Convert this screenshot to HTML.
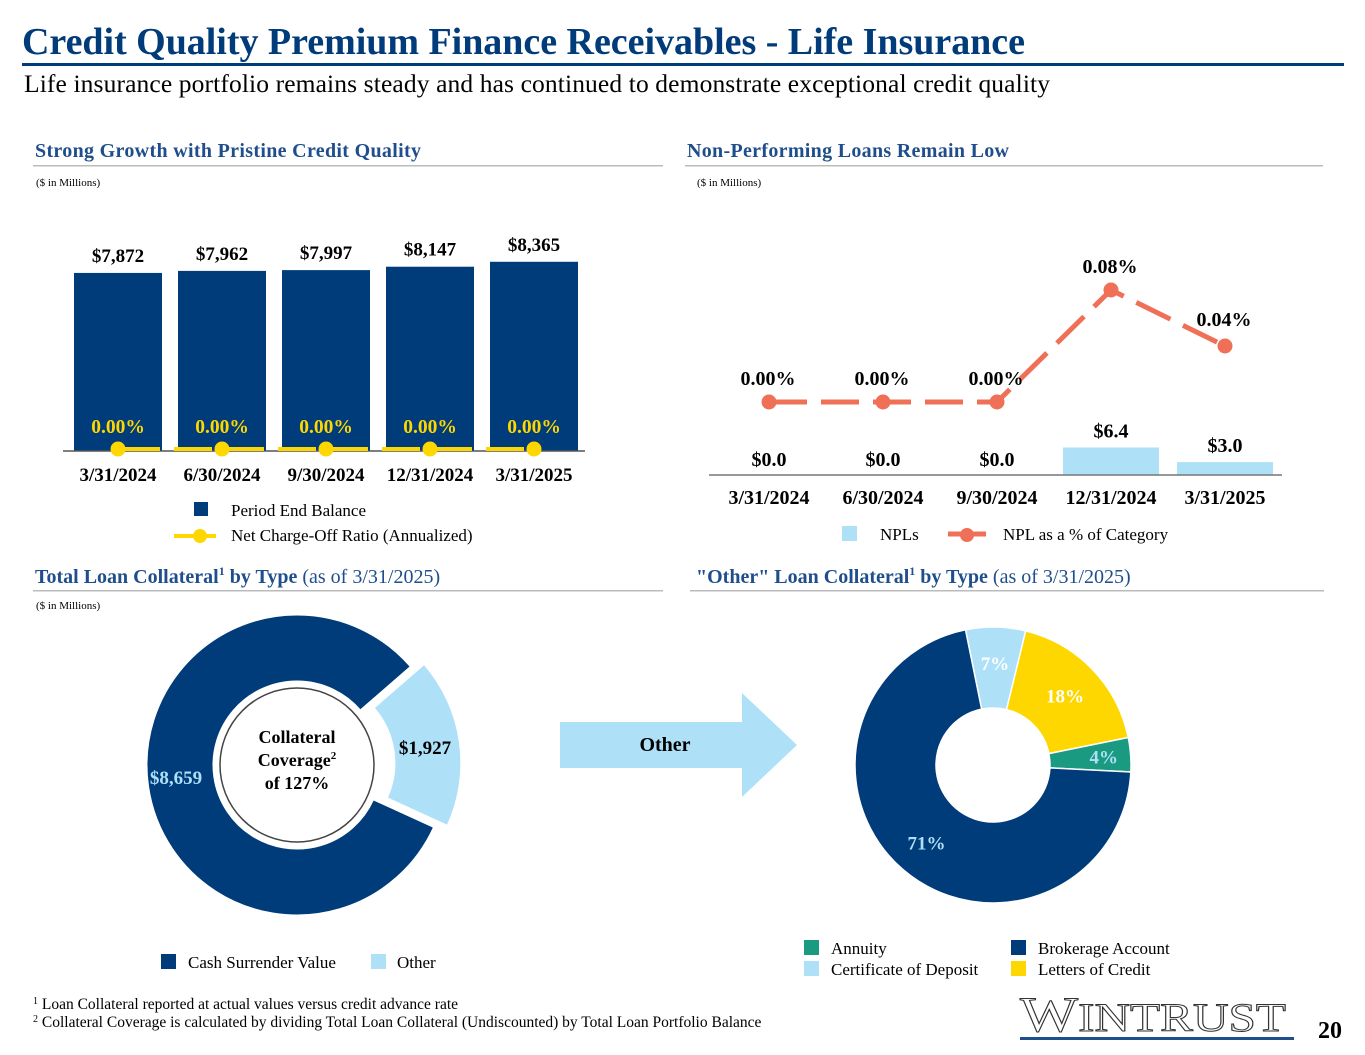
<!DOCTYPE html>
<html><head><meta charset="utf-8"><style>
body{margin:0;width:1365px;height:1055px;background:#fff;overflow:hidden;font-family:"Liberation Serif",serif;}
svg{position:absolute;left:0;top:0}
</style></head><body>
<svg width="1365" height="1055" viewBox="0 0 1365 1055" font-family="Liberation Serif, serif">
<text x="22" y="54" font-size="38" font-weight="bold" fill="#003b7a" textLength="1003">Credit Quality Premium Finance Receivables - Life Insurance</text>
<rect x="22" y="63" width="1322" height="3" fill="#003b7a"/>
<text x="24" y="92" font-size="25.5" fill="#000" textLength="1026">Life insurance portfolio remains steady and has continued to demonstrate exceptional credit quality</text>

<text x="35" y="157" font-size="20" font-weight="bold" fill="#1f4e8c" textLength="386">Strong Growth with Pristine Credit Quality</text>
<rect x="33" y="165" width="630" height="1.5" fill="#bbb"/>
<text x="36" y="186" font-size="11">($ in Millions)</text>
<text x="687" y="157" font-size="20" font-weight="bold" fill="#1f4e8c" textLength="322">Non-Performing Loans Remain Low</text>
<rect x="685" y="165" width="638" height="1.5" fill="#bbb"/>
<text x="697" y="186" font-size="11">($ in Millions)</text>

<g id="g1"></g>
<g id="g2"></g>

<rect x="194" y="502" width="14" height="14" fill="#003b7a"/>
<text x="231" y="516" font-size="17">Period End Balance</text>
<line x1="174" y1="536" x2="216" y2="536" stroke="#ffd700" stroke-width="4"/>
<circle cx="200" cy="536" r="7" fill="#ffd700"/>
<text x="231" y="541" font-size="17">Net Charge-Off Ratio (Annualized)</text>
<rect x="842" y="526" width="15" height="15" fill="#aee0f8"/>
<text x="880" y="540" font-size="17">NPLs</text>
<line x1="948" y1="534" x2="986" y2="534" stroke="#f07057" stroke-width="5"/>
<circle cx="967" cy="535" r="7" fill="#f07057"/>
<text x="1003" y="540" font-size="17">NPL as a % of Category</text>

<text x="35" y="583" font-size="20" fill="#1f4e8c"><tspan font-weight="bold">Total Loan Collateral</tspan><tspan font-size="12" dy="-8" font-weight="bold">1</tspan><tspan dy="8" font-weight="bold"> by Type</tspan> (as of 3/31/2025)</text>
<rect x="33" y="590" width="630" height="1.5" fill="#bbb"/>
<text x="36" y="609" font-size="11">($ in Millions)</text>
<text x="696" y="583" font-size="20" fill="#1f4e8c"><tspan font-weight="bold">"Other" Loan Collateral</tspan><tspan font-size="12" dy="-8" font-weight="bold">1</tspan><tspan dy="8" font-weight="bold"> by Type</tspan> (as of 3/31/2025)</text>
<rect x="690" y="590" width="634" height="1.5" fill="#bbb"/>

<g id="g3"></g>
<circle cx="297" cy="765" r="77" fill="#fff" stroke="#444" stroke-width="1.5"/>
<text x="297" y="743" font-size="18" font-weight="bold" text-anchor="middle">Collateral</text>
<text x="297" y="766" font-size="18" font-weight="bold" text-anchor="middle">Coverage<tspan font-size="11" dy="-7">2</tspan></text>
<text x="297" y="789" font-size="18" font-weight="bold" text-anchor="middle">of 127%</text>

<polygon points="560,722 742,722 742,693 797,745 742,797 742,768 560,768" fill="#aee0f8"/>
<text x="665" y="751" font-size="20" font-weight="bold" text-anchor="middle">Other</text>

<g id="g4"></g>

<rect x="161" y="954" width="15" height="15" fill="#003b7a"/>
<text x="188" y="968" font-size="17">Cash Surrender Value</text>
<rect x="371" y="954" width="15" height="15" fill="#aee0f8"/>
<text x="397" y="968" font-size="17">Other</text>
<rect x="804" y="940" width="15" height="15" fill="#1a9a80"/>
<text x="831" y="954" font-size="17">Annuity</text>
<rect x="804" y="961" width="15" height="15" fill="#aee0f8"/>
<text x="831" y="975" font-size="17">Certificate of Deposit</text>
<rect x="1011" y="940" width="15" height="15" fill="#003b7a"/>
<text x="1038" y="954" font-size="17">Brokerage Account</text>
<rect x="1011" y="961" width="15" height="15" fill="#ffd700"/>
<text x="1038" y="975" font-size="17">Letters of Credit</text>

<text x="33" y="1009" font-size="15.5"><tspan font-size="10" dy="-5">1</tspan><tspan dy="5"> Loan Collateral reported at actual values versus credit advance rate</tspan></text>
<text x="33" y="1027" font-size="15.5"><tspan font-size="10" dy="-5">2</tspan><tspan dy="5"> Collateral Coverage is calculated by dividing Total Loan Collateral (Undiscounted) by Total Loan Portfolio Balance</tspan></text>
<text x="1020" y="1031" font-size="50" fill="#fff" stroke="#333" stroke-width="1" textLength="266" lengthAdjust="spacingAndGlyphs">W<tspan font-size="40">INTRUST</tspan></text>
<rect x="1020" y="1037" width="274" height="3" fill="#1f4e8c"/>
<text x="1330" y="1038" font-size="24" font-weight="bold" text-anchor="middle">20</text>
</svg>
<script>
const NS='http://www.w3.org/2000/svg';
const periods=['3/31/2024','6/30/2024','9/30/2024','12/31/2024','3/31/2025'];
const balances=[7872,7962,7997,8147,8365];
const ncoRatio=[0.00,0.00,0.00,0.00,0.00];
const nplValues=[0.0,0.0,0.0,6.4,3.0];
const nplPct=[0.00,0.00,0.00,0.08,0.04];
const collateralLabels=['Cash Surrender Value','Other'];
const collateralValues=[8659,1927];
const otherLabels=['Certificate of Deposit','Letters of Credit','Annuity','Brokerage Account'];
const otherPcts=[7,18,4,71];

function mk(p,tag,a,txt){const e=document.createElementNS(NS,tag);for(const k in a)e.setAttribute(k,a[k]);if(txt!=null)e.textContent=txt;p.appendChild(e);return e;}
const fmt=v=>'$'+v.toLocaleString('en-US');

const g1=document.getElementById('g1');
const x1=i=>118+i*104, base1=451, y1=v=>base1-v*0.02262;
balances.forEach((v,i)=>{
 const r=mk(g1,'rect',{x:x1(i)-44,y:y1(v),width:88,height:base1-y1(v),fill:'#003b7a'});
 
 
 const t=mk(g1,'text',{x:x1(i),y:y1(v)-11,'font-size':19,'font-weight':'bold','text-anchor':'middle'},fmt(v));
 
 
 const l=mk(g1,'text',{x:x1(i),y:481,'font-size':19,'font-weight':'bold','text-anchor':'middle'},periods[i]);
 
 
});
mk(g1,'line',{x1:63,y1:base1,x2:585,y2:base1,stroke:'#555','stroke-width':1.5});
const yN=v=>base1-2-v*1000;
const pl=mk(g1,'polyline',{points:ncoRatio.map((v,i)=>x1(i)+','+yN(v)).join(' '),fill:'none',stroke:'#ffd700','stroke-width':4,'stroke-dasharray':'38 14','stroke-dashoffset':'-4'});


ncoRatio.forEach((v,i)=>{
 const c=mk(g1,'circle',{cx:x1(i),cy:yN(v),r:7.5,fill:'#ffd700'});
 
 
 const t=mk(g1,'text',{x:x1(i),y:433,'font-size':19.5,'font-weight':'bold','fill':'#ffd700','text-anchor':'middle'},v.toFixed(2)+'%');
 
 
});

const g2=document.getElementById('g2');
const x2=i=>769+i*114, base2=475, yb=v=>base2-v*4.3, yp=v=>402-v*1400;
nplValues.forEach((v,i)=>{
 const r=mk(g2,'rect',{x:x2(i)-48,y:yb(v),width:96,height:base2-yb(v),fill:'#aee0f8'});
 
 
 const t=mk(g2,'text',{x:x2(i),y:(v>0?yb(v)-10:466),'font-size':20,'font-weight':'bold','text-anchor':'middle'},'$'+v.toFixed(1));
 
 
 const l=mk(g2,'text',{x:x2(i),y:504,'font-size':20,'font-weight':'bold','text-anchor':'middle'},periods[i]);
 
 
});
mk(g2,'line',{x1:709,y1:base2,x2:1282,y2:base2,stroke:'#777','stroke-width':1.5});
const pl2=mk(g2,'polyline',{points:nplPct.map((v,i)=>x2(i)+','+yp(v)).join(' '),fill:'none',stroke:'#f07057','stroke-width':5,'stroke-dasharray':'38 14'});


nplPct.forEach((v,i)=>{
 const c=mk(g2,'circle',{cx:x2(i),cy:yp(v),r:7.5,fill:'#f07057'});
 
 
 const t=mk(g2,'text',{x:x2(i)-1,y:yp(v)-(i==4?20:17),'font-size':20,'font-weight':'bold','text-anchor':'middle'},v.toFixed(2)+'%');
 
 
});

function arc(cx,cy,r0,r1,a0,a1){
 const p=(r,a)=>[cx+r*Math.sin(a*Math.PI/180),cy-r*Math.cos(a*Math.PI/180)];
 const lg=(a1-a0)>180?1:0;
 const [x0,y0]=p(r1,a0),[x1_,y1_]=p(r1,a1),[x2_,y2_]=p(r0,a1),[x3,y3]=p(r0,a0);
 return `M${x0},${y0}A${r1},${r1} 0 ${lg} 1 ${x1_},${y1_}L${x2_},${y2_}A${r0},${r0} 0 ${lg} 0 ${x3},${y3}Z`;
}
const g3=document.getElementById('g3');
const tot=collateralValues.reduce((a,b)=>a+b,0);
const start3=49+collateralValues[1]/tot*360;
let a=start3;
const cols3=['#003b7a','#aee0f8'];
collateralValues.forEach((v,i)=>{
 const sw=v/tot*360, mid=(a+sw/2)*Math.PI/180;
 const off=i==1?14:0, cx=297+off*Math.sin(mid), cy=765-off*Math.cos(mid);
 const p=mk(g3,'path',{d:arc(cx,cy,84,150,a,a+sw),fill:cols3[i],stroke:'#fff','stroke-width':1});
 
 
 const lx=i==1?425:176, ly=i==1?754:784;
 const t=mk(g3,'text',{x:lx,y:ly,'font-size':19,'font-weight':'bold','fill':i==1?'#000':'#aee0f8','text-anchor':'middle'},fmt(v));
 
 
 a+=sw;
});
const g4=document.getElementById('g4');
const cols4=['#aee0f8','#ffd700','#1a9a80','#003b7a'];
const lr4=[102,100,111,102];
let b=-11.5;
otherPcts.forEach((v,i)=>{
 const sw=v/100*360, mid=(b+sw/2)*Math.PI/180;
 const p=mk(g4,'path',{d:arc(993,765,57,138,b,b+sw),fill:cols4[i],stroke:'#fff','stroke-width':1.5});
 
 
 const lr=lr4[i];
 const t=mk(g4,'text',{x:993+lr*Math.sin(mid),y:765-lr*Math.cos(mid)+7,'font-size':19,'font-weight':'bold','fill':(i<2?'#fff':'#aee0f8'),'text-anchor':'middle'},v+'%');
 
 
 b+=sw;
});
</script>
</body></html>
